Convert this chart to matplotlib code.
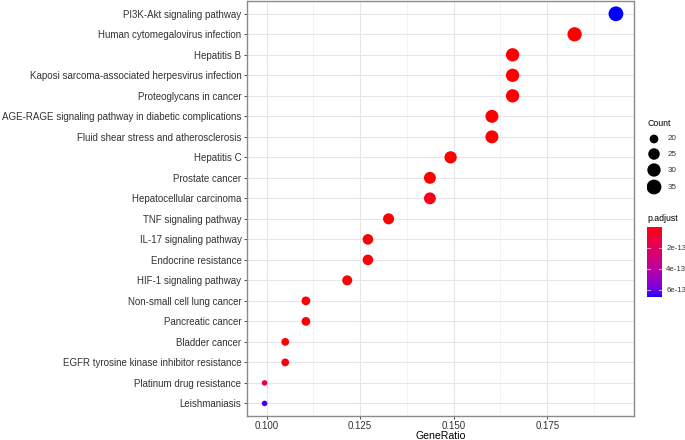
import numpy as np
import matplotlib
matplotlib.use("Agg")
import matplotlib.pyplot as plt
from matplotlib.colors import ListedColormap, Normalize
import matplotlib.ticker as mticker

plt.rcParams['font.family'] = ['Liberation Sans', 'DejaVu Sans']

pathways = [
    "PI3K-Akt signaling pathway",
    "Human cytomegalovirus infection",
    "Hepatitis B",
    "Kaposi sarcoma-associated herpesvirus infection",
    "Proteoglycans in cancer",
    "AGE-RAGE signaling pathway in diabetic complications",
    "Fluid shear stress and atherosclerosis",
    "Hepatitis C",
    "Prostate cancer",
    "Hepatocellular carcinoma",
    "TNF signaling pathway",
    "IL-17 signaling pathway",
    "Endocrine resistance",
    "HIF-1 signaling pathway",
    "Non-small cell lung cancer",
    "Pancreatic cancer",
    "Bladder cancer",
    "EGFR tyrosine kinase inhibitor resistance",
    "Platinum drug resistance",
    "Leishmaniasis",
]
counts = [35, 33, 30, 30, 30, 29, 29, 27, 26, 26, 24, 23, 23, 22, 20, 20, 19, 19, 18, 18]
gene_ratio = [35/181, 33/181, 30/181, 30/181, 30/181, 29/181, 29/181, 27/181, 26/181, 26/181,
              24/181, 23/181, 23/181, 22/181, 20/181, 20/181, 19/181, 19/181, 18/181, 18/181]
p_adjust = [6.7e-13, 1e-15, 1e-15, 1e-15, 1e-15, 1e-15, 1e-15, 1e-15, 2e-15, 3.5e-14,
            5e-15, 5e-15, 1e-14, 1e-14, 5e-15, 5e-15, 5e-15, 1.5e-14, 1.6e-13, 6.45e-13]
xticks = [0.100, 0.125, 0.150, 0.175]
xtick_labels = ["0.100", "0.125", "0.150", "0.175"]
legend_counts = [20, 25, 30, 35]
cbar_ticks = [2e-13, 4e-13, 6e-13]
cbar_labels = ["2e-13", "4e-13", "6e-13"]

# --- red -> blue gradient interpolated in Lab (like ggplot2) ---
def _srgb_to_lin(c):
    c = np.asarray(c, float)
    return np.where(c <= 0.04045, c / 12.92, ((c + 0.055) / 1.055) ** 2.4)

def _lin_to_srgb(c):
    c = np.clip(c, 0, 1)
    return np.where(c <= 0.0031308, 12.92 * c, 1.055 * c ** (1 / 2.4) - 0.055)

M = np.array([[0.4124, 0.3576, 0.1805], [0.2126, 0.7152, 0.0722], [0.0193, 0.1192, 0.9505]])
WP = np.array([0.95047, 1.0, 1.08883])

def _f(t):
    return np.where(t > (6/29) ** 3, np.cbrt(t), t / (3 * (6/29) ** 2) + 4/29)

def _finv(t):
    return np.where(t > 6/29, t ** 3, 3 * (6/29) ** 2 * (t - 4/29))

def rgb2lab(rgb):
    xyz = M @ _srgb_to_lin(rgb) / WP
    fx, fy, fz = _f(xyz)
    return np.array([116 * fy - 16, 500 * (fx - fy), 200 * (fy - fz)])

def lab2rgb(lab):
    L, a, b = lab
    fy = (L + 16) / 116
    fx = fy + a / 500
    fz = fy - b / 200
    xyz = np.array([_finv(fx), _finv(fy), _finv(fz)]) * WP
    return _lin_to_srgb(np.linalg.solve(M, xyz))

lab_lo = rgb2lab([1, 0, 0])
lab_hi = rgb2lab([0, 0, 1])
cols = [lab2rgb(lab_lo + (lab_hi - lab_lo) * t) for t in np.linspace(0, 1, 256)]
cmap = ListedColormap(np.clip(cols, 0, 1))
norm = Normalize(vmin=min(p_adjust), vmax=max(p_adjust))

PX_PT = 72 / 100.0
def size_of(v):
    lo, hi = min(counts), max(counts)
    d_px = 1.85 * (3 + 5 * np.sqrt((np.asarray(v, float) - lo) / (hi - lo)))
    return (d_px * PX_PT) ** 2

fig = plt.figure(figsize=(6.85, 4.4), dpi=100)
ax = fig.add_axes([247 / 685, 1 - 415.7 / 440, 386.5 / 685, 414.2 / 440])

n = len(pathways)
ypos = np.arange(n)[::-1]
ax.scatter(gene_ratio, ypos, s=size_of(counts), c=p_adjust, cmap=cmap, norm=norm,
           edgecolors='none', zorder=3)

rng = max(gene_ratio) - min(gene_ratio)
ax.set_xlim(min(gene_ratio) - 0.05 * rng, max(gene_ratio) + 0.05 * rng)
ax.set_ylim(-0.6, n - 1 + 0.6)
ax.set_yticks(ypos)
ax.set_yticklabels(pathways)
ax.set_xticks(xticks)
ax.set_xticklabels(xtick_labels)
ax.xaxis.set_minor_locator(mticker.MultipleLocator(0.0125))
ax.tick_params(axis='both', which='major', labelsize=7, labelcolor='#333333', color='#333333',
               length=2.5, width=0.6, pad=1.5)
ax.tick_params(axis='x', which='minor', length=0)
ax.grid(True, which='major', color='#e6e6e6', linewidth=0.8, zorder=0)
ax.grid(True, which='minor', axis='x', color='#efefef', linewidth=0.5, zorder=0)
ax.set_axisbelow(True)
for sp in ax.spines.values():
    sp.set_color('#8a8a8a')
    sp.set_linewidth(1.0)
ax.set_xlabel("GeneRatio", fontsize=7.6, color='black', labelpad=-0.5)

# size legend
fig.text(647 / 685, 1 - 124 / 440, "Count", fontsize=6.3, va='center', ha='left', color='black')
lax = fig.add_axes([647 / 685, 1 - 196 / 440, 38 / 685, 66 / 440])
lax.set_xlim(0, 38)
lax.set_ylim(196, 130)
lax.axis('off')
leg_y = [139, 154, 170, 187]
lax.scatter([7] * len(legend_counts), leg_y, s=size_of(legend_counts), c='black', edgecolors='none')
for yy, cc in zip(leg_y, legend_counts):
    lax.text(21, yy, str(cc), fontsize=5.8, va='center', ha='left', color='#333333')

# colour bar
fig.text(647 / 685, 1 - 218 / 440, "p.adjust", fontsize=6.3, va='center', ha='left', color='black')
cax = fig.add_axes([647 / 685, 1 - 297.3 / 440, 15 / 685, 70.6 / 440])
grad = np.linspace(min(p_adjust), max(p_adjust), 256).reshape(-1, 1)
cax.imshow(grad, aspect='auto', cmap=cmap, norm=norm, origin='upper',
           extent=[0, 1, max(p_adjust), min(p_adjust)])
cax.set_ylim(max(p_adjust), min(p_adjust))
cax.set_xlim(0, 1)
cax.set_xticks([])
cax.yaxis.tick_right()
cax.set_yticks(cbar_ticks)
cax.set_yticklabels(cbar_labels)
cax.tick_params(axis='y', length=0, labelsize=5.6, labelcolor='#333333', pad=3)
for t in cbar_ticks:
    cax.plot([0, 0.2], [t, t], color='white', lw=0.8, alpha=0.6)
    cax.plot([0.8, 1], [t, t], color='white', lw=0.8, alpha=0.6)
for sp in cax.spines.values():
    sp.set_visible(False)

fig.savefig("out.png", dpi=100)
